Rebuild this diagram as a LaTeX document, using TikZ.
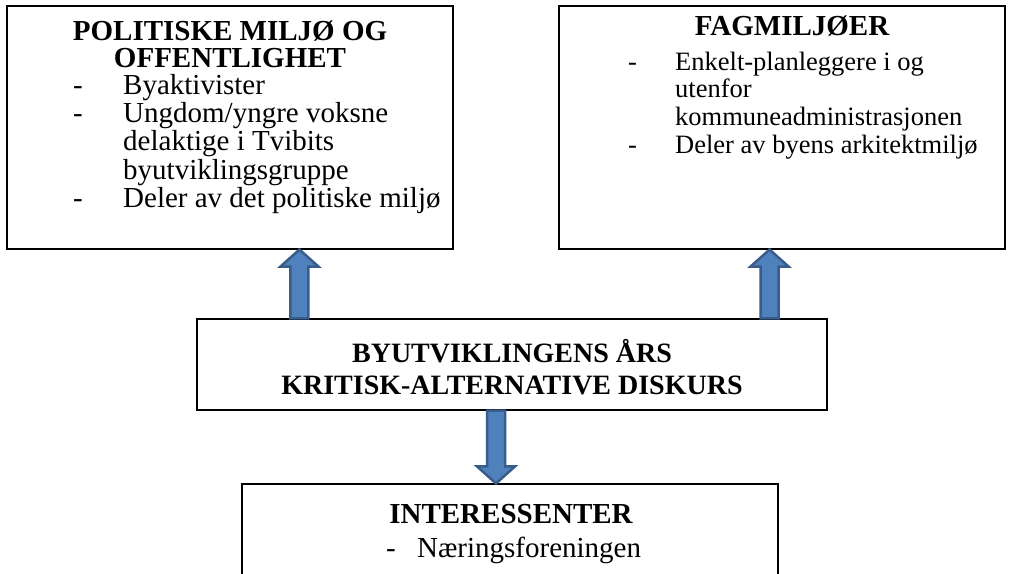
\documentclass[tikz,border=0pt]{standalone}
\usepackage{fontspec}
\setmainfont{Liberation Serif}
\usetikzlibrary{calc}
\usetikzlibrary{positioning}
\definecolor{arrfill}{HTML}{4F81BD}
\definecolor{arrline}{HTML}{385D8A}
\newcommand{\bigfont}{\fontsize{29}{27.5}\selectfont}
\newcommand{\midfont}{\fontsize{28}{27.5}\selectfont}
\newcommand{\smallfont}{\fontsize{26.5}{27.7}\selectfont}
\tikzset{every node/.style={inner sep=0pt, font=\bigfont},
         box/.style={ % Frame of each group
           draw, line width=1.1pt},
         blockarr/.style={ % Office-like block arrow
           fill=arrfill, draw=arrline, line width=2.5pt, line join=miter}}
% block arrow from #1 (start) to #2 (tip)
\newcommand{\blockarrow}[2]{%
  \coordinate (hb) at ($(#2)!17pt!(#1)$);
  \draw[blockarr] ($(#1)!9pt!90:(#2)$) -- ($(hb)!9pt!90:(#2)$)
    -- ($(hb)!19pt!90:(#2)$) -- (#2) -- ($(hb)!19pt!-90:(#2)$)
    -- ($(hb)!9pt!-90:(#2)$) -- ($(#1)!9pt!-90:(#2)$) -- cycle;}
\begin{document}
\begin{tikzpicture}[x=1pt, y=-1pt]
  \path[fill=white, use as bounding box] (0,0) rectangle (1011,573);

  \node [box, minimum width=446pt, minimum height=243pt] (pol) at (230,127.5) {};
  \node [box, minimum width=446pt, minimum height=243pt] (fag) at (782,127.5) {};
  \node [box, minimum width=630pt, minimum height=91pt] (mid) at (512,364.5) {};
  \node [box, minimum width=536pt, minimum height=120pt] (int) at (510,544) {};

  % arrows between the boxes
  \coordinate (a1s) at ($(mid.north west)+(103,0)$);
  \coordinate (a1t) at (a1s |- pol.south);
  \coordinate (a2s) at ($(mid.north east)+(-58,0)$);
  \coordinate (a2t) at (a2s |- fag.south);
  \coordinate (a3s) at ($(mid.south)+(-16,0)$);
  \coordinate (a3t) at (a3s |- int.north);
  \blockarrow{a1s}{a1t}
  \blockarrow{a2s}{a2t}
  \blockarrow{a3s}{a3t}

  \node [anchor=base, font=\bigfont\bfseries] (poltitle) at (230,40)
    {\begin{tabular}[t]{@{}c@{}}POLITISKE MILJØ OG\\OFFENTLIGHET\end{tabular}};
  \node [anchor=base west] (pollist) at (73,94)
    {\begin{tabular}[t]{@{}p{50pt}@{}l@{}}
      - & Byaktivister\\
      - & Ungdom/yngre voksne\\
        & delaktige i Tvibits\\
        & byutviklingsgruppe\\
      - & Deler av det politiske miljø
    \end{tabular}};

  \node [anchor=base, font=\bigfont\bfseries] (fagtitle) at (792,35) {FAGMILJØER};
  \node [anchor=base west, font=\smallfont] (faglist) at (628,70)
    {\begin{tabular}[t]{@{}p{47pt}@{}l@{}}
      - & Enkelt-planleggere i og\\
        & utenfor\\
        & kommuneadministrasjonen\\
      - & Deler av byens arkitektmiljø
    \end{tabular}};

  \node [anchor=base, font=\midfont\bfseries] (midtitle) at (512,362)
    {\begin{tabular}[t]{@{}c@{}}BYUTVIKLINGENS ÅRS\\[5pt]KRITISK-ALTERNATIVE DISKURS\end{tabular}};

  \node [anchor=base, font=\bigfont\bfseries] (inttitle) at (511,523) {INTERESSENTER};
  \node [anchor=base west] (intlist) at (386,557)
    {\begin{tabular}[t]{@{}p{31pt}@{}l@{}}
      - & Næringsforeningen
    \end{tabular}};
\end{tikzpicture}
\end{document}
